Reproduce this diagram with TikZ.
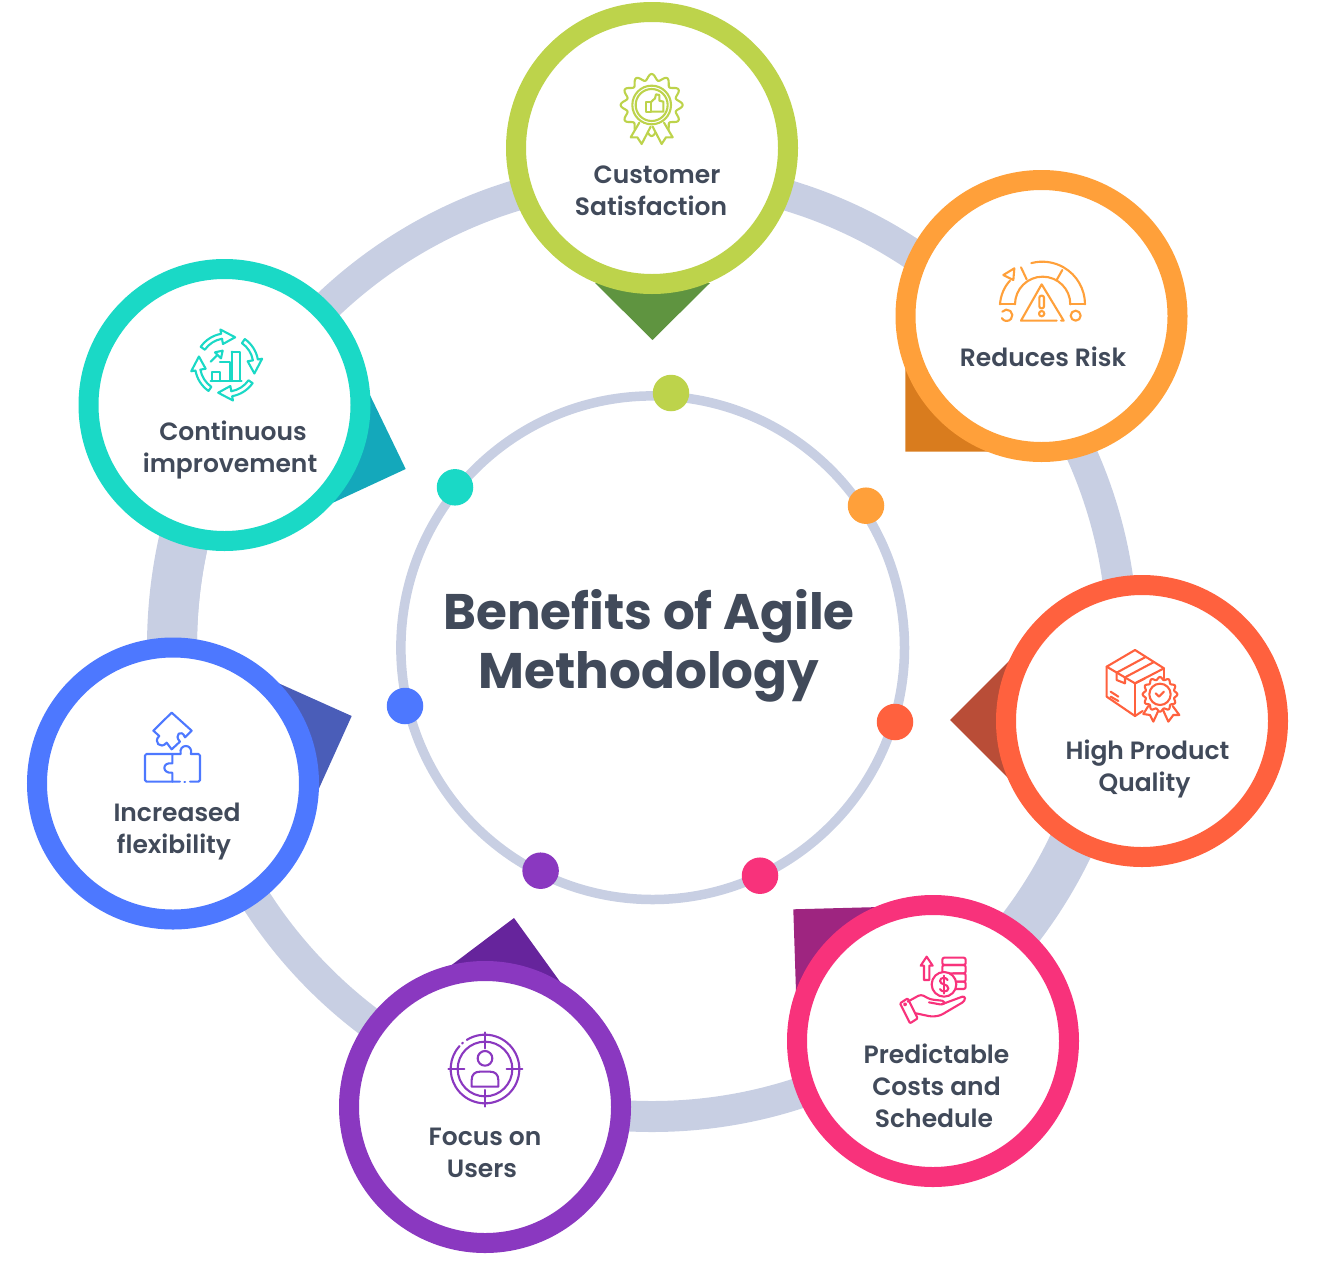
\documentclass[tikz,border=0pt]{standalone}
\usepackage{fontspec}
\usetikzlibrary{calc}
\setmainfont{Poppins}
\newfontfamily\lblfont{Poppins SemiBold}
\newfontfamily\ttlfont{Poppins Bold}
\definecolor{band}{HTML}{C8CFE3}
\definecolor{ink}{HTML}{414A5A}
\definecolor{cgreen}{HTML}{BDD34B}
\definecolor{corange}{HTML}{FFA03A}
\definecolor{cred}{HTML}{FF613E}
\definecolor{cpink}{HTML}{F8327B}
\definecolor{cpurple}{HTML}{8A38C0}
\definecolor{cblue}{HTML}{4D78FF}
\definecolor{cteal}{HTML}{1AD9C6}
\definecolor{dgreen}{HTML}{5F9440}
\definecolor{dorange}{HTML}{D97C1E}
\definecolor{dred}{HTML}{B94D37}
\definecolor{dpink}{HTML}{9E2580}
\definecolor{dpurple}{HTML}{66249C}
\definecolor{dblue}{HTML}{4A5DB8}
\definecolor{dteal}{HTML}{14A8BB}
\tikzset{
  x=1pt,y=-1pt,
  bubble/.style={circle,draw=#1,line width=20pt,fill=white,minimum size=272pt,inner sep=0pt},
  dotmark/.style={circle,fill=#1,minimum size=36.5pt,inner sep=0pt},
  ptr/.style={fill=#1,draw=none},
  lbl/.style={font=\lblfont\fontsize{25}{32}\selectfont,text=ink,align=center,anchor=base,inner sep=0pt},
  ttl/.style={font=\ttlfont\fontsize{50}{58.5}\selectfont,text=ink,align=center,anchor=base,inner sep=0pt},
  ico/.style={draw=#1,line width=2.1pt,line cap=round,line join=round,scale=0.3333},
}
\begin{document}
\begin{tikzpicture}
\useasboundingbox (0,0) rectangle (1317,1269);
\coordinate (c) at (652,646);
% outer band
\draw[band,line width=31pt] (c) circle[radius=470.5];
\draw[band,line width=50pt] (c) ++(164:480) arc (164:209:480);
\draw[band,line width=46pt] (c) ++(8.7:464) arc (8.7:54.6:464);
% inner ring
\draw[band,line width=9.5pt] (652.7,647.7) circle[radius=251.8];
% pointers
\fill[ptr=dgreen] (595,283) -- (710,283) -- (652.5,340) -- cycle;
\fill[ptr=dorange] (905.3,365) -- (905.3,451.7) -- (1000,451.7) -- cycle;
\fill[ptr=dred] (1010,660) -- (950,720) -- (1012,782) -- cycle;
\fill[ptr=dpink] (793.3,909.3) -- (880,907) -- (796,992) -- cycle;
\fill[ptr=dpurple] (445,970) -- (514,918) -- (566,990) -- cycle;
\fill[ptr=dblue] (278,683) -- (351.7,716) -- (316,795) -- cycle;
\fill[ptr=dteal] (368,391) -- (405.7,469) -- (328,505) -- cycle;
% bubbles
\node[bubble=cgreen] (b1) at (652,148) {};
\node[bubble=corange] (b2) at (1041.5,316) {};
\node[bubble=cred] (b3) at (1142,721) {};
\node[bubble=cpink] (b4) at (933,1041) {};
\node[bubble=cpurple] (b5) at (485,1107) {};
\node[bubble=cblue] (b6) at (173,783.5) {};
\node[bubble=cteal] (b7) at (224.5,405) {};
% dots
\node[dotmark=cgreen] (d1) at (671,393) {};
\node[dotmark=corange] (d2) at (866,505.7) {};
\node[dotmark=cred] (d3) at (895,722) {};
\node[dotmark=cpink] (d4) at (760,875.7) {};
\node[dotmark=cpurple] (d5) at (540.6,870.7) {};
\node[dotmark=cblue] (d6) at (405,706) {};
\node[dotmark=cteal] (d7) at (455,487.3) {};
% title
\node[ttl] (title) at (649,688) {Benefits of Agile\\Methodology};
% labels
\node[lbl] (t1) at (651,215) {\hspace*{12pt}Customer\\Satisfaction};
\node[lbl] (t2) at (1043,366) {Reduces Risk};
\node[lbl] (t3) at (1144.5,791) {\hspace*{6pt}High Product\\Quality};
\node[lbl] (t4) at (934,1127) {\hspace*{5pt}Predictable\\\hspace*{5pt}Costs and\\Schedule};
\node[lbl] (t5) at (482,1177) {\hspace*{6pt}Focus on\\Users};
\node[lbl] (t6) at (174,853) {\hspace*{6pt}Increased\\flexibility};
\node[lbl] (t7) at (230,472) {\hspace*{6pt}Continuous\\improvement};
% icon 1
\begin{scope}[shift={(600,60)},ico=cgreen]
\draw[domain=0:360,samples=181,smooth] plot ({155+(84+9*cos(12*\x))*cos(\x)},{135+(84+9*cos(12*\x))*sin(\x)}) -- cycle;
\draw (155,135) circle[radius=58];
\draw (155,135) circle[radius=48];
\draw[fill=white] (118,188) -- (92,232) -- (112,232) -- (125,252) -- (152,200);
\draw[fill=white] (192,188) -- (218,232) -- (198,232) -- (185,252) -- (158,200);
\draw (137,127) rectangle (152,155);
\draw (152,127) -- (165,115) -- (168,103) -- (178,105) -- (178,122) -- (190,125) -- (190,155) -- (152,155);
\end{scope}
% icon 2
\begin{scope}[shift={(985,250)},ico=corange]
\draw (45,163) -- (90,163);
\draw (255,163) -- (300,163);
\draw (300,163) arc (0:-105:128);
\draw (45,163) .. controls (47,135) and (58,110) .. (75,92);
\draw (90,163) arc (180:360:83);
\draw (55,75) -- (88,55) -- (85,90) -- cycle;
\draw (108,52) -- (125,88);
\draw (232,60) -- (215,90);
\draw (215,212) -- (108,212) -- (170,103) -- (236,212) -- (228,212);
\draw[rounded corners=2pt] (163,137) rectangle (177,175);
\draw (170,191) circle[radius=8];
\draw (272,197) circle[radius=15];
\draw (52,185) arc (-140:150:17);
\end{scope}
% icon 3
\begin{scope}[shift={(1090,640)},ico=cred]
\draw (50,80) -- (135,30) -- (222,85) -- (135,130) -- cycle;
\draw (50,80) -- (50,170) -- (135,228) -- (158,213);
\draw (135,130) -- (135,228);
\draw (222,85) -- (222,115);
\draw (135,130) -- (165,115);
\draw (80,98) -- (165,52);
\draw (105,112) -- (190,67);
\draw (80,98) -- (80,120) -- (105,130) -- (105,112);
\draw (62,155) -- (85,170);
\draw (62,170) -- (85,183);
\draw[fill=white] (175,198) -- (160,222) -- (180,225) -- (190,245) -- (205,212);
\draw[fill=white] (248,198) -- (268,225) -- (250,225) -- (235,245) -- (220,212);
\draw[fill=white,domain=0:360,samples=145,smooth] plot ({210+(48+4*cos(12*\x))*cos(\x)},{163+(48+4*cos(12*\x))*sin(\x)}) -- cycle;
\draw (210,163) circle[radius=32];
\draw (197,160) -- (207,170) -- (222,155);
\end{scope}
% icon 4
\begin{scope}[shift={(885,945)},ico=cpink]
\draw (125,35) -- (107,62) -- (117,62) -- (117,105) -- (133,105) -- (133,62) -- (143,62) -- cycle;
\draw[rounded corners=2pt] (172,60) -- (172,38) -- (242,38) -- (242,60) -- cycle;
\draw[rounded corners=2pt] (172,85) -- (172,60) -- (242,60) -- (242,85) -- cycle;
\draw[rounded corners=2pt] (205,85) -- (242,85) -- (242,110) -- (212,110);
\draw[rounded corners=2pt] (215,110) -- (242,110) -- (242,132) -- (213,132);
\draw[fill=white] (177,118) circle[radius=37];
\draw (188,105) .. controls (184,96) and (165,96) .. (165,108) .. controls (165,120) and (190,116) .. (190,130) .. controls (190,142) and (168,142) .. (165,132);
\draw (177,92) -- (177,146);
\draw[rounded corners=1pt] (45,175) -- (68,160) -- (98,220) -- (75,235) -- cycle;
\draw (60,178) circle[radius=3];
\draw[rounded corners=3pt] (68,170) -- (108,148) -- (135,163) -- (180,168) -- (175,180) -- (132,172);
\draw[rounded corners=3pt] (170,178) -- (240,152) -- (240,168) -- (165,212) -- (140,215) -- (93,205);
\end{scope}
% icon 5
\begin{scope}[shift={(435,1025)},ico=cpurple]
\draw (150,132) ++(-122:103) arc (-122:222:103);
\draw (150,132) ++(-132:103) arc (-132:-130:103);
\draw (150,132) circle[radius=82];
\draw (150,100) circle[radius=22];
\draw (110,185) -- (110,165) .. controls (110,148) and (120,140) .. (135,140) -- (165,140) .. controls (180,140) and (190,148) .. (190,165) -- (190,185) -- cycle;
\draw (150,22) -- (150,70);
\draw (150,195) -- (150,245);
\draw (40,132) -- (88,132);
\draw (215,132) -- (262,132);
\end{scope}
% icon 6
\begin{scope}[shift={(130,700)},ico=cblue]
\draw (125,38) -- (70,92) -- (88,108) .. controls (68,125) and (92,150) .. (110,128) -- (125,148) -- (150,125) .. controls (130,105) and (155,85) .. (165,112) -- (185,92) -- cycle;
\draw[rounded corners=1.5pt] (127,162) -- (45,162) -- (45,245) -- (150,245);
\draw (163,245) -- (165,245);
\draw[rounded corners=1.5pt] (180,245) -- (210,245) -- (210,162) -- (183,162);
\draw (152,162) .. controls (145,130) and (190,130) .. (183,162);
\draw (152,162) -- (127,162) -- (127,190) .. controls (95,185) and (95,222) .. (127,218) -- (127,245);
\end{scope}
% icon 7
\begin{scope}[shift={(180,320)},ico=cteal]
\foreach \r in {0,90,180,270}{
\begin{scope}[rotate around={\r:(140,135)}]
\draw (140,135) ++(-145:95) arc (-145:-100:95) -- ($(140,135)+(-100:108)$) -- ($(140,135)+(-73:87)$) -- ($(140,135)+(-100:64)$) -- ($(140,135)+(-100:80)$) arc (-100:-145:80) -- cycle;
\end{scope}}
\draw (97,183) -- (97,155) -- (120,155) -- (120,183);
\draw (120,125) -- (150,125) -- (150,183);
\draw (155,95) -- (180,95) -- (180,183);
\draw (155,95) -- (155,183);
\draw (92,183) -- (185,183);
\draw (92,125) -- (112,105);
\draw (105,97) -- (128,92) -- (123,115) -- cycle;
\end{scope}
\end{tikzpicture}
\end{document}
